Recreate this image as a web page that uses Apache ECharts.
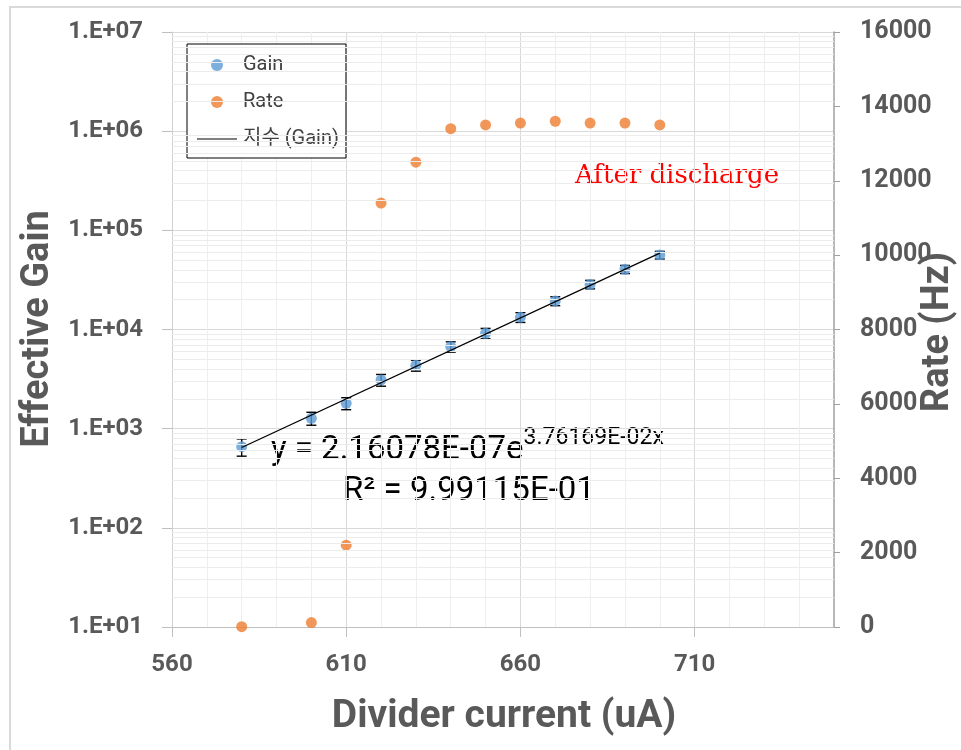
<!DOCTYPE html>
<html>
<head>
<meta charset="utf-8">
<title>Effective Gain and Rate vs Divider current</title>
<script src="https://cdn.jsdelivr.net/npm/echarts@6/dist/echarts.min.js"></script>
<style>
  html, body { margin: 0; padding: 0; background: #ffffff; }
  #chart { width: 961px; height: 750px; }
</style>
</head>
<body>
<div id="chart"></div>
<script>
// Divider current (uA) of each measurement
const currents = [580, 600, 610, 620, 630, 640, 650, 660, 670, 680, 690, 700];
// Effective gain and its uncertainty (left, log axis)
const gainValues = [658, 1273, 1803, 3100, 4350, 6710, 9160, 13280, 19390, 28500, 40460, 56400];
const gainErrors = [130, 190, 250, 420, 550, 800, 1100, 1500, 2000, 2800, 3800, 5000];
// Count rate in Hz (right axis)
const rateValues = [10, 120, 2200, 11400, 12500, 13400, 13500, 13550, 13600, 13550, 13550, 13500];

// Exponential fit of the gain: y = A * exp(B * x)
const fitA = 2.16078e-7;
const fitB = 3.76169e-2;
const fitR2 = '9.99115E-01';
const fitRange = [580, 700];

// Axis ticks
const xTickValues = [560, 610, 660, 710];
const rateTickStep = 2000;

const FONT = "Roboto, 'Noto Sans CJK KR', sans-serif";
const AXIS_GRAY = '#595959';

const chart = echarts.init(document.getElementById('chart'), null, { renderer: 'canvas' });

const gainPoints = currents.map((x, i) => [x, gainValues[i]]);
const ratePoints = currents.map((x, i) => [x, rateValues[i]]);
const errorPoints = currents.map((x, i) => [x, gainValues[i] - gainErrors[i], gainValues[i] + gainErrors[i]]);
const trendPoints = fitRange.map(x => [x, fitA * Math.exp(fitB * x)]);

// Excel-style scientific notation, e.g. 2.16078E-07
const sci = v => {
  const [m, e] = v.toExponential(5).toUpperCase().split('E');
  const n = parseInt(e, 10);
  return m + 'E' + (n < 0 ? '-' : '+') + String(Math.abs(n)).padStart(2, '0');
};

// Minor log gridlines (2..9 within each decade)
const minorLogLines = [];
for (let d = 1; d < 7; d++) {
  for (let m = 2; m <= 9; m++) minorLogLines.push({ yAxis: m * Math.pow(10, d) });
}

// Plain line icon for the trendline legend entry (tiny corner dots keep the 40x10 box)
const LINE_ICON = 'path://M0,0L0.01,0L0,0.01Z M0,4.4L40,4.4L40,5.6L0,5.6Z M40,10L39.99,10L40,9.99Z';

const option = {
  backgroundColor: '#ffffff',
  animation: false,
  textStyle: { fontFamily: FONT },
  grid: { left: 172, right: 127, top: 32, bottom: 123, containLabel: false },
  legend: {
    data: [
      { name: 'Gain', icon: 'circle' },
      { name: 'Rate', icon: 'circle' },
      { name: '지수 (Gain)', icon: LINE_ICON }
    ],
    orient: 'vertical',
    left: 187,
    top: 44,
    padding: [10, 7, 8, 10],
    itemGap: 15,
    itemWidth: 40,
    itemHeight: 12,
    borderColor: '#000000',
    borderWidth: 1,
    backgroundColor: '#ffffff',
    selectedMode: false,
    textStyle: { fontFamily: FONT, fontSize: 20, lineHeight: 22, color: '#404040', padding: [0, 0, 0, 1] }
  },
  xAxis: {
    type: 'value',
    min: 560,
    max: 750,
    interval: 50,
    axisLine: { show: true, lineStyle: { color: '#bfbfbf', width: 1 } },
    axisTick: { show: true, length: 10, customValues: xTickValues, lineStyle: { color: '#bfbfbf' } },
    axisLabel: {
      customValues: xTickValues,
      margin: 26,
      color: AXIS_GRAY,
      fontFamily: FONT,
      fontWeight: 'bold',
      fontSize: 24
    },
    splitLine: { show: true, lineStyle: { color: '#d9d9d9', width: 1 } },
    minorTick: { show: false, splitNumber: 5 },
    minorSplitLine: { show: true, lineStyle: { color: '#efefef', width: 1 } }
  },
  yAxis: [
    {
      type: 'log',
      logBase: 10,
      min: 10,
      max: 1e7,
      position: 'left',
      axisLine: { show: true, lineStyle: { color: '#d0d0d0', width: 1 } },
      axisTick: { show: true, length: 10, lineStyle: { color: '#bfbfbf' } },
      axisLabel: {
        margin: 29,
        color: AXIS_GRAY,
        fontFamily: FONT,
        fontWeight: 'bold',
        fontSize: 24,
        formatter: v => '1.E+' + String(Math.round(Math.log10(v))).padStart(2, '0')
      },
      splitLine: { show: true, lineStyle: { color: '#d9d9d9', width: 1 } }
    },
    {
      type: 'value',
      min: 0,
      max: 16000,
      interval: rateTickStep,
      position: 'right',
      axisLine: { show: true, lineStyle: { color: '#a0a0a0', width: 1.5 } },
      axisTick: { show: true, length: 6, lineStyle: { color: '#a0a0a0' } },
      axisLabel: {
        margin: 26,
        color: AXIS_GRAY,
        fontFamily: FONT,
        fontWeight: 'bold',
        fontSize: 25,
        formatter: v => String(v)
      },
      splitLine: { show: false }
    }
  ],
  series: [
    {
      name: 'log-grid',
      type: 'line',
      yAxisIndex: 0,
      data: [],
      silent: true,
      z: 1,
      markLine: {
        silent: true,
        symbol: ['none', 'none'],
        label: { show: false },
        lineStyle: { color: '#ececec', width: 1, type: 'solid' },
        data: minorLogLines
      }
    },
    {
      name: 'Gain error',
      type: 'custom',
      yAxisIndex: 0,
      z: 3,
      encode: { x: 0, y: [1, 2] },
      data: errorPoints,
      renderItem: function (params, api) {
        const x = api.value(0);
        const lo = api.coord([x, api.value(1)]);
        const hi = api.coord([x, api.value(2)]);
        const w = 5;
        const style = { stroke: '#000000', lineWidth: 1.4 };
        return {
          type: 'group',
          children: [
            { type: 'line', shape: { x1: lo[0], y1: lo[1], x2: hi[0], y2: hi[1] }, style: style },
            { type: 'line', shape: { x1: lo[0] - w, y1: lo[1], x2: lo[0] + w, y2: lo[1] }, style: style },
            { type: 'line', shape: { x1: hi[0] - w, y1: hi[1], x2: hi[0] + w, y2: hi[1] }, style: style }
          ]
        };
      }
    },
    {
      name: 'Gain',
      type: 'scatter',
      yAxisIndex: 0,
      z: 4,
      symbol: 'circle',
      symbolSize: 11,
      itemStyle: { color: '#5b9bd5' },
      data: gainPoints
    },
    {
      name: 'Rate',
      type: 'scatter',
      yAxisIndex: 1,
      z: 4,
      symbol: 'circle',
      symbolSize: 11,
      itemStyle: { color: '#ed7d31' },
      data: ratePoints
    },
    {
      name: '지수 (Gain)',
      type: 'line',
      yAxisIndex: 0,
      z: 5,
      symbol: 'none',
      showSymbol: false,
      lineStyle: { color: '#000000', width: 1.3 },
      itemStyle: { color: '#000000' },
      data: trendPoints
    }
  ],
  graphic: [
    {
      type: 'rect',
      silent: true,
      z: -10,
      shape: { x: 10, y: 7, width: 1000, height: 800 },
      style: { fill: 'none', stroke: '#d9d9d9', lineWidth: 2 }
    },
    {
      type: 'text',
      x: 38,
      y: 329,
      rotation: Math.PI / 2,
      style: {
        text: 'Effective Gain',
        fill: AXIS_GRAY,
        font: "bold 38px " + FONT,
        align: 'center',
        verticalAlign: 'middle'
      }
    },
    {
      type: 'text',
      x: 938,
      y: 332,
      rotation: Math.PI / 2,
      style: {
        text: 'Rate (Hz)',
        fill: AXIS_GRAY,
        font: "bold 38px " + FONT,
        align: 'center',
        verticalAlign: 'middle'
      }
    },
    {
      type: 'text',
      x: 504,
      y: 717,
      style: {
        text: 'Divider current (uA)',
        fill: AXIS_GRAY,
        font: "bold 39px " + FONT,
        align: 'center',
        verticalAlign: 'middle'
      }
    },
    {
      type: 'text',
      x: 575,
      y: 176,
      style: {
        text: 'After discharge',
        fill: '#ff0000',
        font: "26px 'DejaVu Serif', serif",
        align: 'left',
        verticalAlign: 'middle'
      }
    },
    {
      type: 'text',
      x: 271,
      y: 427,
      style: {
        text: '{main|y = ' + sci(fitA) + 'e}{sup|' + sci(fitB) + 'x}',
        align: 'left',
        verticalAlign: 'top',
        rich: {
          main: { fontFamily: FONT, fontSize: 33, lineHeight: 48, fill: '#000000', verticalAlign: 'middle' },
          sup: { fontFamily: FONT, fontSize: 23, lineHeight: 26, fill: '#000000', verticalAlign: 'top' }
        }
      }
    },
    {
      type: 'text',
      x: 343,
      y: 492,
      style: {
        text: 'R\u00B2 = ' + fitR2,
        fill: '#000000',
        font: "33px " + FONT,
        align: 'left',
        verticalAlign: 'middle'
      }
    }
  ]
};

chart.setOption(option);
</script>
</body>
</html>
